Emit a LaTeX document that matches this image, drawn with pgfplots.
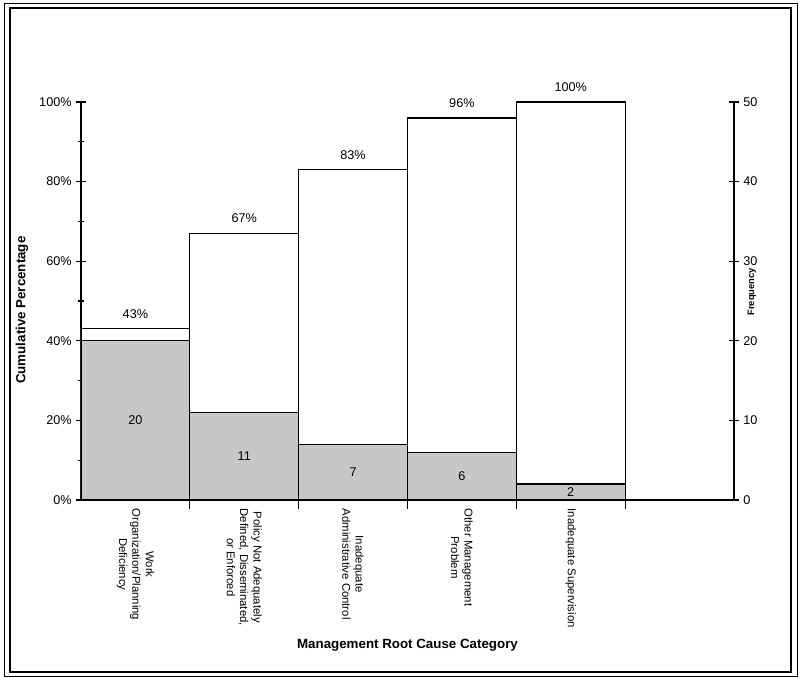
\documentclass[border=0pt]{standalone}
\usepackage{pgfplots}
\pgfplotsset{compat=1.18}
\usepackage{fontspec}
\setmainfont{Liberation Sans}
\begin{document}
\begin{tikzpicture}
\useasboundingbox (0,0) rectangle (600pt,508.5pt);
\draw[line width=0.7pt] (3pt,1.5pt) rectangle (597.75pt,506.25pt);
\draw[line width=1.1pt] (7.5pt,4.5pt) rectangle (593.25pt,502.5pt);
\pgfplotsset{
  base/.style={
    at={(60.75pt,133.5pt)}, anchor=south west, scale only axis,
    width=489.75pt, height=298.5pt,
    xmin=0, xmax=6, ymin=0,
    tick align=center, major tick length=7pt, minor tick length=4.5pt,
    tick style={black, line width=0.8pt},
    axis line style={line width=0.9pt},
    /pgf/number format/assume math mode=true,
    tick label style={font=\fontsize{9.5}{11}\selectfont},
    ybar, bar width=1, bar shift=0pt,
  }
}
\begin{axis}[base, ymax=100,
  axis x line*=bottom, axis y line*=left,
  xtick={1,2,3,4,5}, xticklabels={},
  extra x ticks={0.5,1.5,2.5,3.5,4.5},
  extra x tick labels={{Work\\Organization/Planning\\Deficiency},{Policy Not Adequately\\Defined, Disseminated,\\or Enforced},{Inadequate\\Administrative Control},{Other Management\\Problem},{Inadequate Supervision}},
  extra x tick style={major tick length=0pt, xticklabel style={yshift=-3pt, rotate=-90, anchor=west, align=center, font=\fontsize{8.5}{10}\selectfont}},
  ytick={0,20,...,100}, minor ytick={10,30,...,90},
  yticklabel={\pgfmathprintnumber{\tick}\%},
  ylabel={Cumulative Percentage},
  every axis y label/.style={at={(axis description cs:0,0.477)}, xshift=-44.25pt, rotate=90, anchor=center, font=\bfseries\fontsize{10}{12}\selectfont},
  xlabel={Management Root Cause Category},
  every axis x label/.style={at={(axis description cs:0.5,0)}, anchor=center, yshift=-108.75pt, font=\bfseries\fontsize{10}{12}\selectfont},
  nodes near coords={\pgfmathprintnumber{\pgfplotspointmeta}\%},
  nodes near coords style={font=\fontsize{9.5}{11}\selectfont, yshift=4pt},
]
\addplot[draw=black, fill=white, line width=0.9pt] coordinates {(0.5,43) (1.5,67) (2.5,83) (3.5,96) (4.5,100)};
\end{axis}
\begin{axis}[base, ymax=50,
  axis x line=none, axis y line*=right, xtick=\empty,
  ytick={0,10,...,50},
  ylabel={Frequency},
  every axis y label/.style={at={(axis description cs:1,0.523)}, xshift=13.5pt, rotate=90, anchor=center, font=\bfseries\fontsize{7}{8}\selectfont},
]
\addplot[draw=black, fill=black!22, line width=0.9pt,
  visualization depends on={y \as \rawy},
  nodes near coords,
  nodes near coords style={font=\fontsize{9.5}{11}\selectfont, anchor=center, shift={(axis direction cs:0,-\rawy/2)}},
] coordinates {(0.5,20) (1.5,11) (2.5,7) (3.5,6) (4.5,2)};
\end{axis}
\end{tikzpicture}
\end{document}
